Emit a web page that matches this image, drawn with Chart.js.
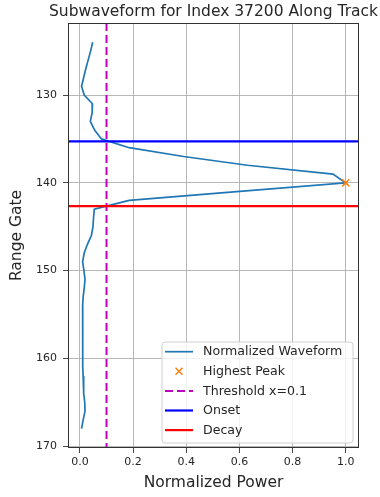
<!DOCTYPE html>
<html>
<head>
<meta charset="utf-8">
<script src="https://cdn.jsdelivr.net/npm/chart.js@4.4.1/dist/chart.umd.min.js"></script>
<style>
  html, body { margin: 0; padding: 0; background: #fff; }
  #wrap { width: 380px; height: 497px; position: relative; }
</style>
</head>
<body>
<div id="wrap"><canvas id="c" width="380" height="497"></canvas></div>
<script>
// Range gates of the subwaveform window
const rangeGates = [124,125,126,127,128,129,130,131,132,133,134,135,136,137,138,139,140,141,142,143,144,145,146,
  147,148,149,150,151,152,153,154,155,156,157,158,159,160,161,162,163,164,165,166,167,168];
// Normalized power at each gate
const normPower = [0.048,0.040,0.031,0.022,0.014,0.006,0.016,0.047,0.046,0.039,0.055,0.081,0.185,0.39,0.63,0.952,1.0,0.59,0.185,
  0.054,0.051,0.049,0.043,0.028,0.016,0.010,0.015,0.019,0.016,0.012,0.010,0.010,0.011,0.011,0.010,0.010,0.010,0.011,
  0.012,0.013,0.015,0.018,0.019,0.012,0.006];
const thresholdX = 0.1;
const onsetGate = 135.27;
const decayGate = 142.66;
const yTicks = [130, 140, 150, 160, 170];
const xTicks = [0.0, 0.2, 0.4, 0.6, 0.8, 1.0];
const titleText = 'Subwaveform for Index 37200 Along Track';

const FONT = 'DejaVu Sans';
const xMin = -0.045, xMax = 1.05;
const yMin = 121.8, yMax = 170.2;

let peakIdx = 0;
normPower.forEach((v, i) => { if (v > normPower[peakIdx]) peakIdx = i; });

const waveform = rangeGates.map((g, i) => ({ x: normPower[i], y: g }));

const datasets = [
  { label: 'Normalized Waveform', data: waveform, showLine: true, borderColor: '#1f77b4',
    borderWidth: 1.7, pointRadius: 0, tension: 0, order: 5 },
  { label: 'Highest Peak', data: [{ x: normPower[peakIdx], y: rangeGates[peakIdx] }], showLine: false,
    pointStyle: 'crossRot', pointRadius: 5, borderColor: '#ff7f0e', backgroundColor: '#ff7f0e',
    pointBorderWidth: 1.5, order: 4 },
  { label: 'Threshold x=0.1', data: [{ x: thresholdX, y: yMin }, { x: thresholdX, y: yMax }], showLine: true,
    borderColor: '#bf00bf', borderWidth: 2, borderDash: [8, 4], pointRadius: 0, order: 3 },
  { label: 'Onset', data: [{ x: xMin, y: onsetGate }, { x: xMax, y: onsetGate }], showLine: true,
    borderColor: '#0000ff', borderWidth: 2.2, pointRadius: 0, order: 2 },
  { label: 'Decay', data: [{ x: xMin, y: decayGate }, { x: xMax, y: decayGate }], showLine: true,
    borderColor: '#ff0000', borderWidth: 2.2, pointRadius: 0, order: 1 }
];

// Frame, title and legend box
const decorations = {
  id: 'decorations',
  afterDatasetsDraw(chart) {
    const { ctx, chartArea: a } = chart;
    ctx.save();
    // legend
    const lx = 162, ly = 342, lw = 191, lh = 101, r = 3;
    ctx.beginPath();
    ctx.moveTo(lx + r, ly);
    ctx.arcTo(lx + lw, ly, lx + lw, ly + lh, r);
    ctx.arcTo(lx + lw, ly + lh, lx, ly + lh, r);
    ctx.arcTo(lx, ly + lh, lx, ly, r);
    ctx.arcTo(lx, ly, lx + lw, ly, r);
    ctx.closePath();
    ctx.fillStyle = 'rgba(255,255,255,0.8)';
    ctx.fill();
    ctx.strokeStyle = '#d0d0d0';
    ctx.lineWidth = 1;
    ctx.stroke();
    ctx.font = '12.6px "' + FONT + '"';
    ctx.textBaseline = 'middle';
    ctx.textAlign = 'left';
    chart.data.datasets.forEach((ds, i) => {
      const cy = 351.7 + i * 19.6;
      ctx.save();
      if (ds.showLine) {
        ctx.strokeStyle = ds.borderColor;
        ctx.lineWidth = ds.borderWidth;
        ctx.setLineDash(ds.borderDash || []);
        ctx.beginPath();
        ctx.moveTo(165, cy);
        ctx.lineTo(193, cy);
        ctx.stroke();
      } else {
        ctx.strokeStyle = ds.borderColor;
        ctx.lineWidth = 1.5;
        ctx.beginPath();
        ctx.moveTo(175.5, cy - 3.5); ctx.lineTo(182.5, cy + 3.5);
        ctx.moveTo(182.5, cy - 3.5); ctx.lineTo(175.5, cy + 3.5);
        ctx.stroke();
      }
      ctx.restore();
      ctx.fillStyle = '#262626';
      ctx.fillText(ds.label, 203, cy + 0.5);
    });
    // frame
    ctx.strokeStyle = '#333';
    ctx.lineWidth = 1;
    ctx.strokeRect(Math.round(a.left) + 0.5, Math.round(a.top) + 0.5,
      Math.round(a.right - a.left) - 1, Math.round(a.bottom - a.top) - 1);
    // title
    ctx.fillStyle = '#262626';
    ctx.font = '15.5px "' + FONT + '"';
    ctx.textAlign = 'center';
    ctx.textBaseline = 'alphabetic';
    ctx.fillText(titleText, (a.left + a.right) / 2, 16);
    ctx.restore();
  }
};

new Chart(document.getElementById('c'), {
  type: 'scatter',
  data: { datasets },
  options: {
    responsive: false,
    animation: false,
    layout: { padding: { top: 23, right: 21, left: 0, bottom: 0 } },
    plugins: { legend: { display: false }, tooltip: { enabled: false }, title: { display: false } },
    scales: {
      x: {
        type: 'linear', min: xMin, max: xMax,
        afterBuildTicks: s => { s.ticks = xTicks.map(v => ({ value: v })); },
        afterFit: s => { s.height = 49; },
        ticks: { callback: v => Number(v).toFixed(1), font: { family: FONT, size: 11 }, color: '#262626',
          padding: 3, maxRotation: 0, autoSkip: false },
        grid: { color: '#b0b0b0', lineWidth: 0.9, tickColor: '#333', tickLength: 5 },
        border: { display: false },
        title: { display: true, text: 'Normalized Power', font: { family: FONT, size: 15.5 }, color: '#262626',
          padding: { top: 0, bottom: 4.5 } }
      },
      y: {
        type: 'linear', min: yMin, max: yMax, reverse: true,
        afterBuildTicks: s => { s.ticks = yTicks.map(v => ({ value: v })); },
        afterFit: s => { s.width = 68; },
        ticks: { font: { family: FONT, size: 11 }, color: '#262626', padding: 6, autoSkip: false },
        grid: { color: '#b0b0b0', lineWidth: 0.9, tickColor: '#333', tickLength: 5 },
        border: { display: false },
        title: { display: true, text: 'Range Gate', font: { family: FONT, size: 15.5 }, color: '#262626',
          padding: { top: 8, bottom: 0 } }
      }
    }
  },
  plugins: [decorations]
});
</script>
</body>
</html>
